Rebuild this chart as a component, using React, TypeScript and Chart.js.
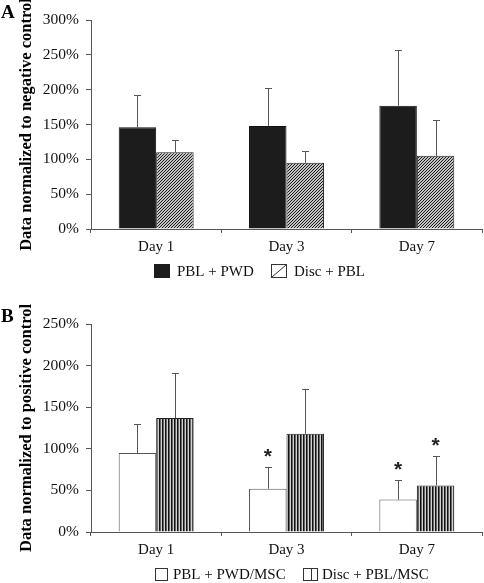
import React, { useEffect, useRef } from "react";
import { Chart, registerables } from "chart.js";

Chart.register(...registerables);

// ---- Data ----
const days = ["Day 1", "Day 3", "Day 7"];

// Panel A (normalized to negative control, %)
const pblPwd = [146, 148, 177];
const pblPwdErrTop = [192, 203, 257];
const discPbl = [110, 95, 105];
const discPblErrTop = [128, 112, 157];
const yMaxA = 300;

// Panel B (normalized to positive control, %)
const pblPwdMsc = [95, 52, 39];
const pblPwdMscErrTop = [130, 78, 62];
const pblPwdMscSig = [false, true, true];
const discPblMsc = [137, 118, 56];
const discPblMscErrTop = [191, 172, 91];
const discPblMscSig = [false, false, true];
const yMaxB = 250;
const yStep = 50;

const SERIF = '"Liberation Serif", "Times New Roman", serif';

function makeDiagPattern(ctx: CanvasRenderingContext2D) {
  const c = document.createElement("canvas");
  c.width = 3;
  c.height = 3;
  const g = c.getContext("2d")!;
  g.fillStyle = "#c2c2c2";
  g.fillRect(0, 0, 3, 3);
  g.fillStyle = "#1e1e1e";
  g.fillRect(0, 2, 1, 1);
  g.fillRect(1, 1, 1, 1);
  g.fillRect(2, 0, 1, 1);
  return ctx.createPattern(c, "repeat")!;
}

function makeVertPattern(ctx: CanvasRenderingContext2D) {
  const c = document.createElement("canvas");
  c.width = 3;
  c.height = 1;
  const g = c.getContext("2d")!;
  g.fillStyle = "#111";
  g.fillRect(0, 0, 1, 1);
  g.fillStyle = "#666";
  g.fillRect(1, 0, 1, 1);
  g.fillStyle = "#d2d2d2";
  g.fillRect(2, 0, 1, 1);
  return ctx.createPattern(c, "repeat")!;
}

type LegendItem = { x: number; y: number; w: number; h: number; kind: string; textX: number; textY: number };

function decorPlugin(letter: string, letterBaseline: number, legend: LegendItem[]) {
  return {
    id: "decor" + letter,
    afterDatasetsDraw(chart: any) {
      const ctx: CanvasRenderingContext2D = chart.ctx;
      const yScale = chart.scales.y;
      ctx.save();
      chart.data.datasets.forEach((ds: any, d: number) => {
        const meta = chart.getDatasetMeta(d);
        meta.data.forEach((bar: any, i: number) => {
          const x = Math.round(bar.x) + 0.5;
          const y0 = bar.y;
          const y1 = Math.round(yScale.getPixelForValue(ds.errTop[i])) + 0.5;
          ctx.strokeStyle = "#555";
          ctx.lineWidth = 1;
          ctx.beginPath();
          ctx.moveTo(x, y0);
          ctx.lineTo(x, y1);
          ctx.moveTo(x - 3.5, y1);
          ctx.lineTo(x + 3.5, y1);
          ctx.stroke();
          if (ds.sig && ds.sig[i]) {
            ctx.fillStyle = "#222";
            ctx.font = 'bold 21px "Liberation Sans", Arial, sans-serif';
            ctx.textAlign = "center";
            ctx.textBaseline = "alphabetic";
            ctx.fillText("*", bar.x, y1 - 5);
          }
        });
      });
      ctx.restore();
    },
    afterDraw(chart: any) {
      const ctx: CanvasRenderingContext2D = chart.ctx;
      ctx.save();
      // panel letter
      ctx.fillStyle = "#000";
      ctx.font = `bold 19px ${SERIF}`;
      ctx.textAlign = "left";
      ctx.textBaseline = "alphabetic";
      ctx.fillText(letter, 1, letterBaseline);
      // legend
      legend.forEach((it, idx) => {
        const ds = chart.data.datasets[idx];
        const x = it.x + 0.5;
        const y = it.y + 0.5;
        ctx.lineWidth = 1;
        ctx.strokeStyle = "#333";
        if (it.kind === "solid") {
          ctx.fillStyle = "#1c1c1c";
          ctx.fillRect(it.x, it.y, it.w, it.h);
        } else {
          ctx.fillStyle = "#fff";
          ctx.fillRect(it.x, it.y, it.w, it.h);
          ctx.strokeRect(x, y, it.w - 1, it.h - 1);
          ctx.beginPath();
          if (it.kind === "diag") {
            ctx.moveTo(x, y + it.h - 1);
            ctx.lineTo(x + it.w - 1, y);
          } else if (it.kind === "vsplit") {
            const mx = Math.round(it.x + it.w / 2) + 0.5;
            ctx.moveTo(mx, y);
            ctx.lineTo(mx, y + it.h - 1);
          }
          ctx.stroke();
        }
        ctx.fillStyle = "#111";
        ctx.font = `15px ${SERIF}`;
        ctx.textAlign = "left";
        ctx.textBaseline = "middle";
        ctx.fillText(ds.label, it.textX, it.textY);
      });
      ctx.restore();
    },
  };
}

function makeOptions(yMax: number, yTitle: string, padTop: number, padBottom: number) {
  return {
    responsive: false,
    animation: false as const,
    layout: { padding: { top: padTop, bottom: padBottom, left: 0, right: 2 } },
    plugins: { legend: { display: false }, tooltip: { enabled: false } },
    scales: {
      x: {
        grid: { offset: true, drawOnChartArea: false, drawTicks: true, tickLength: 4, color: "#555" },
        border: { display: true, color: "#555", width: 1 },
        ticks: { color: "#111", font: { family: SERIF, size: 15 }, padding: 5 },
        afterFit: (s: any) => {
          s.height = 30;
        },
      },
      y: {
        min: 0,
        max: yMax,
        grid: { drawOnChartArea: false, drawTicks: true, tickLength: 5, color: "#555" },
        border: { display: true, color: "#555", width: 1 },
        ticks: {
          stepSize: yStep,
          color: "#111",
          font: { family: SERIF, size: 15.5 },
          padding: 7,
          callback: (v: any) => v + "%",
        },
        title: {
          display: true,
          text: yTitle,
          color: "#000",
          font: { family: SERIF, size: 16.5, weight: "bold" as const, lineHeight: 1.2 },
          padding: { top: 16.5, bottom: 0 },
        },
        afterFit: (s: any) => {
          s.width = 91;
        },
      },
    },
  };
}

export default function App() {
  const refA = useRef<HTMLCanvasElement>(null);
  const refB = useRef<HTMLCanvasElement>(null);

  useEffect(() => {
    const ctxA = refA.current!.getContext("2d")!;
    const ctxB = refB.current!.getContext("2d")!;
    const diag = makeDiagPattern(ctxA);
    const vert = makeVertPattern(ctxB);

    const chartA = new Chart(ctxA, {
      type: "bar",
      data: {
        labels: days,
        datasets: [
          {
            label: "PBL + PWD",
            data: pblPwd,
            errTop: pblPwdErrTop,
            backgroundColor: "#1c1c1c",
            borderColor: "#111",
            borderWidth: 1,
            categoryPercentage: 0.575,
            barPercentage: 1,
          } as any,
          {
            label: "Disc + PBL",
            data: discPbl,
            errTop: discPblErrTop,
            backgroundColor: diag,
            borderColor: "#222",
            borderWidth: 1,
            categoryPercentage: 0.575,
            barPercentage: 1,
          } as any,
        ],
      },
      options: makeOptions(yMaxA, "Data normalized to negative control", 20, 31) as any,
      plugins: [
        decorPlugin("A", 18, [
          { x: 154, y: 264, w: 16, h: 14, kind: "solid", textX: 177, textY: 272 },
          { x: 271, y: 264, w: 16, h: 14, kind: "diag", textX: 294, textY: 272 },
        ]),
      ],
    });

    const chartB = new Chart(ctxB, {
      type: "bar",
      data: {
        labels: days,
        datasets: [
          {
            label: "PBL + PWD/MSC",
            data: pblPwdMsc,
            errTop: pblPwdMscErrTop,
            sig: pblPwdMscSig,
            backgroundColor: "#ffffff",
            borderColor: "#555",
            borderWidth: 1,
            categoryPercentage: 0.575,
            barPercentage: 1,
          } as any,
          {
            label: "Disc + PBL/MSC",
            data: discPblMsc,
            errTop: discPblMscErrTop,
            sig: discPblMscSig,
            backgroundColor: vert,
            borderColor: "#222",
            borderWidth: 1,
            categoryPercentage: 0.575,
            barPercentage: 1,
          } as any,
        ],
      },
      options: makeOptions(yMaxB, "Data normalized to positive control", 34, 21) as any,
      plugins: [
        decorPlugin("B", 32, [
          { x: 155, y: 278, w: 13, h: 13, kind: "white", textX: 173, textY: 285 },
          { x: 303, y: 278, w: 15, h: 13, kind: "vsplit", textX: 322, textY: 285 },
        ]),
      ],
    });

    return () => {
      chartA.destroy();
      chartB.destroy();
    };
  }, []);

  return (
    <div style={{ position: "absolute", left: 0, top: 0, width: 484, height: 583, background: "#fff" }}>
      <canvas ref={refA} width={484} height={290} style={{ display: "block" }} />
      <canvas ref={refB} width={484} height={293} style={{ display: "block" }} />
    </div>
  );
}
